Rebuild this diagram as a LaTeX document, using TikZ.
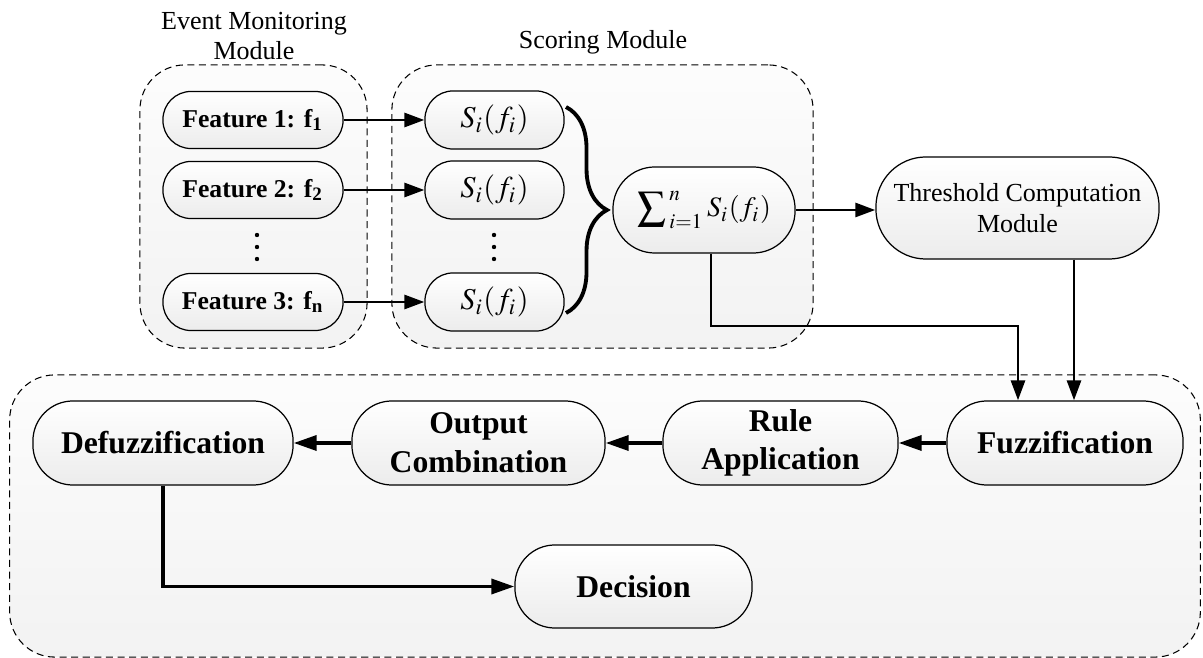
\documentclass[tikz,border=0pt]{standalone}
\usepackage{mathptmx}
\usepackage{fontspec}
\setmainfont{Liberation Serif}
\usetikzlibrary{arrows.meta,positioning,decorations.pathreplacing}

\tikzset{
  grp/.style={draw, dash pattern=on 2pt off 1.3pt, line width=0.3pt, rounded corners=0.45cm,
    top color=gray!2, bottom color=gray!10},
  blk/.style={draw, line width=0.35pt, rounded corners=#1, top color=white, bottom color=gray!15,
    align=center, inner sep=1pt},
  blk/.default=0.4cm,
  feat/.style={blk=0.28cm, minimum width=1.8cm, minimum height=0.57cm, font=\fontsize{7.3}{9}\selectfont\bfseries},
  score/.style={blk=0.28cm, minimum width=1.39cm, minimum height=0.58cm, font=\fontsize{8.6}{10}\selectfont},
  fz/.style={blk, minimum height=0.84cm, font=\fontsize{9}{11}\selectfont\bfseries},
  lbl/.style={align=center, font=\fontsize{7.4}{8.8}\selectfont},
  arr/.style={-{Triangle[length=2mm,width=1.4mm]}, line width=0.8pt},
  barr/.style={-{Triangle[length=2.3mm,width=1.5mm]}, line width=1pt},
}

\begin{document}
\begin{tikzpicture}[x=0.01cm, y=-0.01cm]
  \useasboundingbox (0,0) rectangle (1203,658);

  % module frames
  \node[grp, minimum width=2.27cm, minimum height=2.83cm] (evgrp) at (253.5,206.5) {};
  \node[grp, minimum width=4.21cm, minimum height=2.83cm] (scgrp) at (602.5,206.5) {};
  \node[grp, minimum width=11.9cm, minimum height=2.82cm] (fzgrp) at (605,516) {};

  \node[lbl] (evlbl) at (254,36) {Event Monitoring\\Module};
  \node[lbl] (sclbl) at (603,42) {Scoring Module};

  % features
  \node[feat] (f1) at (253,120) {Feature 1: f\textsubscript{1}};
  \node[feat] (f2) at (253,190) {Feature 2: f\textsubscript{2}};
  \node[feat] (fn) at (253,302) {Feature 3: f\textsubscript{n}};

  % scores
  \node[score] (s1) at (494.5,120) {$S_i(f_i)$};
  \node[score] (s2) at (494.5,190) {$S_i(f_i)$};
  \node[score] (sn) at (494.5,302) {$S_i(f_i)$};

  \foreach \x in {257,494} {
    \foreach \y in {235,247,259}
      \fill (\x,\y) circle (0.022cm);
  }

  \node[blk=0.42cm, minimum width=1.82cm, minimum height=0.86cm, font=\fontsize{8}{10}\selectfont]
    (sum) at (704,210) {$\displaystyle\sum\nolimits_{\kern1pt i=1}^{\kern1pt n} S_i(f_i)$};
  \node[blk=0.5cm, lbl, minimum width=2.83cm, minimum height=1.02cm] (thr) at (1017.5,208)
    {Threshold Computation\\Module};

  % fuzzy part
  \node[fz, minimum width=2.36cm] (fuzz) at (1065,443) {Fuzzification};
  \node[fz, minimum width=2.35cm] (rule) at (780.5,443) {Rule\\Application};
  \node[fz, minimum width=2.53cm] (outc) at (478.5,443) {Output\\Combination};
  \node[fz, minimum width=2.6cm] (defz) at (163,443) {Defuzzification};
  \node[fz, minimum width=2.37cm, minimum height=0.83cm] (dec) at (633.5,586.5) {Decision};

  % connectors
  \draw[arr] (f1) -- (s1);
  \draw[arr] (f2) -- (s2);
  \draw[arr] (fn) -- (sn);

  \coordinate (bt) at (566,107);
  \coordinate (bb) at (566,313);
  \draw[decorate, decoration={brace, amplitude=0.41cm}, line width=1.1pt] (bt) -- (bb);

  \draw[arr] (sum.east) -- (sum.east -| thr.west);

  \coordinate (jn) at (1018,326);
  \coordinate (tin) at (1074,0);
  \draw[arr] ([xshift=0.07cm]sum.south) |- (jn) -- (jn |- fuzz.north);
  \draw[arr] (thr.south -| tin) -- (fuzz.north -| tin);

  \draw[barr] (fuzz) -- (rule);
  \draw[barr] (rule) -- (outc);
  \draw[barr] (outc) -- (defz);
  \draw[barr] (defz.south) |- (dec.west);

\end{tikzpicture}
\end{document}
